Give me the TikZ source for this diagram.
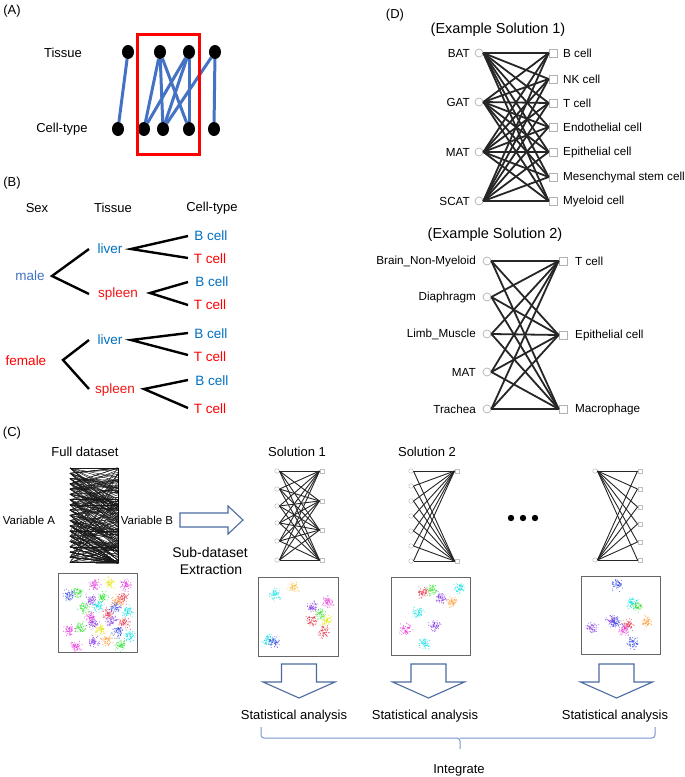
\documentclass[tikz,border=0pt]{standalone}
\usepackage{fontspec}
\setmainfont{Liberation Sans}
\usetikzlibrary{shapes.geometric}
\definecolor{ablue}{RGB}{68,114,196}
\definecolor{bblue}{RGB}{0,112,192}
\definecolor{bred}{RGB}{240,20,20}
\definecolor{arrowblue}{RGB}{74,106,160}
\definecolor{bracecol}{RGB}{120,150,205}
\definecolor{kcyan}{RGB}{0,225,230}
\definecolor{korange}{RGB}{255,150,40}
\definecolor{kyellow}{RGB}{230,230,0}
\definecolor{kgreen}{RGB}{40,230,40}
\definecolor{kred}{RGB}{230,40,60}
\definecolor{kmag}{RGB}{230,40,220}
\definecolor{kpurp}{RGB}{130,50,230}
\definecolor{kblue}{RGB}{40,60,230}
\definecolor{kgold}{RGB}{245,190,60}
\newcommand\mycluster[3]{%
  \foreach \k in {1,...,60}{%
    \pgfmathsetmacro\dxx{2.6*(rand+rand+rand)}%
    \pgfmathsetmacro\dyy{2.6*(rand+rand+rand)}%
    \fill[#3,opacity=0.7] ({#1+\dxx},{#2+\dyy}) circle (0.55);}}
\newcommand\mydownarr[1]{%
  \draw[arrowblue,line width=1.1] ({#1-17.5},664) -- ({#1+17.5},664) -- ({#1+17.5},682) -- ({#1+36},682) -- (#1,698) -- ({#1-36},682) -- ({#1-17.5},682) -- cycle;}
\begin{document}
\begin{tikzpicture}[x=1pt,y=-1pt,
  txt/.style={inner sep=0pt, font=\fontsize{13}{15}\selectfont},
  btxt/.style={inner sep=0pt, font=\fontsize{13.5}{16}\selectfont},
  dtxt/.style={inner sep=0pt, font=\fontsize{11.7}{14}\selectfont},
  stxt/.style={inner sep=0pt, font=\fontsize{11.5}{14}\selectfont},
  ttl/.style={inner sep=0pt, font=\fontsize{14.5}{17}\selectfont},
  adot/.style={ellipse, fill=black, minimum width=12pt, minimum height=14pt, inner sep=0pt},
  aedge/.style={ablue, line width=3pt},
  bedge/.style={black, line width=2.4pt},
  dcirc/.style={circle, draw=gray!60, fill=white, line width=0.7pt, minimum size=8pt, inner sep=0pt},
  dsq/.style={rectangle, draw=gray!60, fill=white, line width=0.7pt, minimum size=8pt, inner sep=0pt},
  dedge/.style={black!85, line width=1.8pt},
  scirc/.style={circle, draw=gray!50, fill=white, line width=0.5pt, minimum size=4.5pt, inner sep=0pt},
  ssq/.style={rectangle, draw=gray!50, fill=white, line width=0.5pt, minimum size=4.5pt, inner sep=0pt},
  sedge/.style={black!85, line width=0.9pt},
  sbox/.style={draw=black!60, line width=1pt, fill=white}]
\useasboundingbox (0,0) rectangle (685,777);
\fill[white] (0,0) rectangle (685,777);
\pgfmathsetseed{17}

% ---------------- Panel A ----------------
\node[txt] (labA) at (12,11) {(A)};
\node[txt] (tis) at (63,53) {Tissue};
\node[txt] (ctp) at (62,129) {Cell-type};
\foreach \x [count=\n] in {128,160,189,215} {\node[adot] (t\n) at (\x,52) {};}
\foreach \x [count=\n] in {118,144,163,189,214} {\node[adot] (c\n) at (\x,129) {};}
\foreach \a/\b in {1/1,2/2,2/3,2/4,3/2,3/3,3/4,4/3,4/5}
  {\draw[aedge] (t\a) -- (c\b);}
\draw[red, line width=3pt] (137,34) rectangle (199,154);

% ---------------- Panel B ----------------
\node[txt] (labB) at (12,183) {(B)};
\node[txt] (hsex) at (37,208) {Sex};
\node[txt] (htis) at (113,208) {Tissue};
\node[txt] (hct) at (212,208) {Cell-type};
\node[btxt, text=ablue] (male) at (30,276) {male};
\node[btxt, text=bblue] (liv1) at (110,249) {liver};
\node[btxt, text=bred] (spl1) at (118,294) {spleen};
\node[btxt, text=red] (fem) at (26,361) {female};
\node[btxt, text=bblue] (liv2) at (110,340) {liver};
\node[btxt, text=bred] (spl2) at (115,390) {spleen};
\node[btxt, text=bblue] (b1) at (211,236) {B cell};
\node[btxt, text=red] (c1) at (210,259) {T cell};
\node[btxt, text=bblue] (b2) at (212,282) {B cell};
\node[btxt, text=red] (c2) at (210,305) {T cell};
\node[btxt, text=bblue] (b3) at (211,334) {B cell};
\node[btxt, text=red] (c3) at (210,357) {T cell};
\node[btxt, text=bblue] (b4) at (212,381) {B cell};
\node[btxt, text=red] (c4) at (210,409) {T cell};
\coordinate (mv) at (52,276);  \coordinate (mu) at (89,249); \coordinate (md) at (89,294);
\coordinate (fv) at (63,360);  \coordinate (fu) at (89,340); \coordinate (fd) at (89,389);
\coordinate (l1v) at (131,249); \coordinate (l1u) at (188,236); \coordinate (l1d) at (188,258);
\coordinate (s1v) at (150,293); \coordinate (s1u) at (188,282); \coordinate (s1d) at (188,305);
\coordinate (l2v) at (131,340); \coordinate (l2u) at (188,333); \coordinate (l2d) at (188,355);
\coordinate (s2v) at (144,389); \coordinate (s2u) at (188,380); \coordinate (s2d) at (188,408);
\foreach \v in {m,f,l1,s1,l2,s2} {\draw[bedge] (\v u) -- (\v v) -- (\v d);}

% ---------------- Panel D ----------------
\node[txt] (labD) at (395,15) {(D)};
\node[ttl] (ex1) at (498,30) {(Example Solution 1)};
\foreach \y/\t [count=\n] in {53/BAT,102/GAT,152/MAT,201/SCAT} {
  \node[dcirc] (dl\n) at (479,\y) {};
  \node[dtxt, anchor=east] (dlt\n) at (470,\y) {\t};}
\foreach \y/\t [count=\n] in {53/B cell,79/NK cell,103/T cell,127/Endothelial cell,152/Epithelial cell,177/Mesenchymal stem cell,201/Myeloid cell} {
  \node[dsq] (dr\n) at (553,\y) {};
  \node[dtxt, anchor=west] (drt\n) at (563,\y) {\t};}
\foreach \a in {1,...,4} {\foreach \b in {1,...,7} {\draw[dedge] (dl\a.east) -- (dr\b.west);}}

\node[ttl] (ex2) at (495,235) {(Example Solution 2)};
\foreach \y/\t [count=\n] in {261/{Brain\_Non-Myeloid},297/Diaphragm,334/{Limb\_Muscle},372/MAT,409/Trachea} {
  \node[dcirc] (el\n) at (487,\y) {};
  \node[dtxt, anchor=east] (elt\n) at (476,\y) {\t};}
\foreach \y/\t [count=\n] in {261/T cell,335/Epithelial cell,409/Macrophage} {
  \node[dsq] (er\n) at (563,\y) {};
  \node[dtxt, anchor=west] (ert\n) at (575,\y) {\t};}
\foreach \a in {1,...,5} {\foreach \b in {1,...,3} {\draw[dedge] (el\a.east) -- (er\b.west);}}

% ---------------- Panel C ----------------
\node[txt] (labC) at (12,433) {(C)};
\node[txt] (full) at (85,452) {Full dataset};
\node[stxt] (vara) at (29,520) {Variable A};
\node[stxt] (varb) at (147,520) {Variable B};
\begin{scope}
\clip (69.5,467) rectangle (118.5,564);
\foreach \i in {0,...,18}{
  \foreach \k in {1,...,12}{
    \pgfmathrandominteger{\jj}{-10}{24}
    \pgfmathsetmacro\yy{max(468,min(563,468+\i*5.25+\jj*1.9))}
    \draw[black!90, line width=0.45pt] (70,{468+\i*5.25}) -- (118,\yy);}}
\foreach \k in {1,...,12}{
    \pgfmathrandominteger{\ia}{12}{18}
    \pgfmathrandominteger{\jb}{0}{30}
    \draw[black!90, line width=0.45pt] (70,{468+\ia*5.25}) -- (118,{468+\jb*1.9});}
\end{scope}
\draw[black, line width=0.8pt] (118,468) -- (118,563);
\draw[arrowblue, line width=1.1pt] (180,513) -- (228,513) -- (228,506) -- (243,520) -- (228,534) -- (228,527) -- (180,527) -- cycle;
\node[inner sep=0pt, font=\fontsize{14}{17}\selectfont] (sub) at (210,552) {Sub-dataset};
\node[inner sep=0pt, font=\fontsize{14}{17}\selectfont] (extr) at (211,569) {Extraction};

\node[txt] (sol1) at (297,452) {Solution 1};
\node[txt] (sol2) at (427,452) {Solution 2};

\foreach \y [count=\n] in {471,489,506,523,541,560} {\node[scirc] (pl\n) at (277,\y) {};}
\foreach \y [count=\n] in {471,501,530,560} {\node[ssq] (pr\n) at (322,\y) {};}
\foreach \a in {1,...,6} {\foreach \b in {1,...,4} {\draw[sedge] (pl\a.east) -- (pr\b.west);}}

\foreach \y [count=\n] in {471,486,501,516,531,546,561} {\node[scirc] (ql\n) at (411,\y) {};}
\foreach \y [count=\n] in {471,561} {\node[ssq] (qr\n) at (457,\y) {};}
\foreach \a in {1,...,7} {\foreach \b in {1,2} {\draw[sedge] (ql\a.east) -- (qr\b.west);}}

\foreach \y [count=\n] in {471,560} {\node[scirc] (rl\n) at (595,\y) {};}
\foreach \y [count=\n] in {471,489,507,524,542,560} {\node[ssq] (rr\n) at (640,\y) {};}
\foreach \a in {1,2} {\foreach \b in {1,...,6} {\draw[sedge] (rl\a.east) -- (rr\b.west);}}

\foreach \x in {511,523,535} {\fill[black] (\x,518) circle (3.2);}

% scatter boxes
\draw[sbox] (58,573) rectangle (137,652);
\begin{scope}
\clip (58.5,573.5) rectangle (136.5,651.5);
\foreach \x/\y/\c in {69/595/kblue,78/592/kgreen,94/585/kmag,110/583/kyellow,125/585/kmag,
  122/598/kred,117/601/korange,92/600/kpurp,84/608/kgreen,98/606/kcyan,103/597/kgreen,
  115/608/kblue,108/614/kred,90/617/kmag,111/621/kpurp,128/612/kcyan,124/623/kred,
  70/630/kmag,81/628/kgreen,93/624/kpurp,118/632/kblue,107/640/korange,94/642/kpurp,
  121/645/kgreen,76/646/kmag,130/636/kcyan,100/630/kyellow}
  {\mycluster{\x}{\y}{\c}}
\end{scope}

\draw[sbox] (258,577) rectangle (338,656);
\begin{scope}
\clip (258.5,577.5) rectangle (337.5,655.5);
\foreach \x/\y/\c in {275/595/kcyan,294/587/kgold,313/607/kpurp,328/602/kmag,320/614/kgreen,
  312/620/kred,327/621/kyellow,324/632/kred,268/640/kcyan,274/642/kblue}
  {\mycluster{\x}{\y}{\c}}
\end{scope}

\draw[sbox] (391,577) rectangle (470,655);
\begin{scope}
\clip (391.5,577.5) rectangle (469.5,654.5);
\foreach \x/\y/\c in {423/593/kred,432/590/kgreen,441/598/kpurp,452/602/korange,460/588/kcyan,
  418/613/kcyan,406/629/kmag,435/626/kpurp,425/643/kcyan}
  {\mycluster{\x}{\y}{\c}}
\end{scope}

\draw[sbox] (581,576) rectangle (660,654);
\begin{scope}
\clip (581.5,576.5) rectangle (659.5,653.5);
\foreach \x/\y/\c in {617/585/kblue,633/603/kcyan,638/606/kgreen,612/620/kpurp,616/622/kblue,
  628/625/kred,647/621/korange,625/630/kmag,592/628/kpurp,633/643/kblue}
  {\mycluster{\x}{\y}{\c}}
\end{scope}

\mydownarr{299}
\mydownarr{428.5}
\mydownarr{616.5}

\node[txt] (sa1) at (294,716) {Statistical analysis};
\node[txt] (sa2) at (425,716) {Statistical analysis};
\node[txt] (sa3) at (615,716) {Statistical analysis};

\coordinate (brl) at (261,727);
\coordinate (brr) at (655,727);
\coordinate (brm) at (460,749);
\draw[bracecol, line width=1pt, rounded corners=3pt] (brl) |- (460,738) -- (brm);
\draw[bracecol, line width=1pt, rounded corners=3pt] (brr) |- (460,738);
\node[txt] (integ) at (459,770) {Integrate};
\end{tikzpicture}
\end{document}
